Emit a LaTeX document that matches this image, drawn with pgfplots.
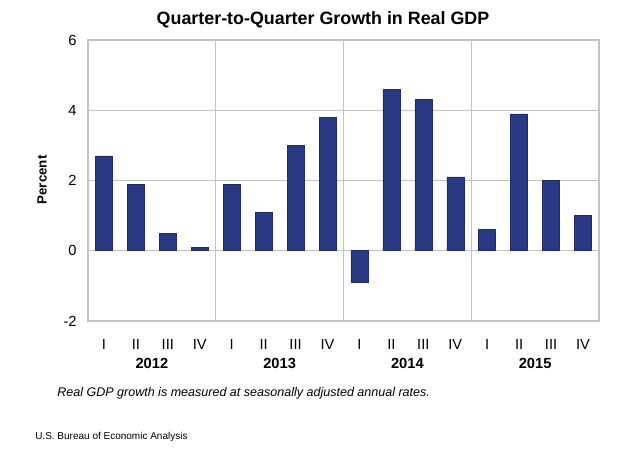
\documentclass[border=0pt]{standalone}
\usepackage{pgfplots}
\pgfplotsset{compat=1.18}
\usepackage{fontspec}
\setmainfont{Liberation Sans}
\definecolor{barblue}{RGB}{41,57,132}
\definecolor{bardark}{RGB}{30,44,110}
\definecolor{gridgray}{RGB}{195,195,195}
\begin{document}
\begin{tikzpicture}[x=0.75pt,y=0.75pt]
\path[use as bounding box] (0,0) rectangle (637,450);
\begin{axis}[
  at={(66pt,96.75pt)}, anchor=south west,
  scale only axis,
  width=383.25pt, height=210.75pt,
  ybar, bar width=12.75pt,
  xmin=-0.5, xmax=15.5,
  ymin=-2, ymax=6,
  ytick={-2,0,2,4,6},
  xtick={0,...,15},
  xticklabels={I,II,III,IV,I,II,III,IV,I,II,III,IV,I,II,III,IV},
  xticklabel style={anchor=center, yshift=-13.5pt, font=\fontsize{11}{13}\selectfont},
  yticklabel style={anchor=east, xshift=-5pt, font=\fontsize{11}{13}\selectfont},
  /pgf/number format/assume math mode=true,
  ymajorgrids, major grid style={gridgray, line width=0.8pt},
  axis line style={gridgray, line width=0.8pt},
  tick style={draw=none},
  clip=false,
]
\addplot[fill=barblue, draw=bardark, line width=0.4pt] coordinates {
 (0,2.7) (1,1.9) (2,0.5) (3,0.1)
 (4,1.9) (5,1.1) (6,3.0) (7,3.8)
 (8,-0.9) (9,4.6) (10,4.3) (11,2.1)
 (12,0.6) (13,3.9) (14,2.0) (15,1.0)};
\draw[gridgray, line width=0.8pt] (axis cs:3.5,-2) -- (axis cs:3.5,6);
\draw[gridgray, line width=0.8pt] (axis cs:7.5,-2) -- (axis cs:7.5,6);
\draw[gridgray, line width=0.8pt] (axis cs:11.5,-2) -- (axis cs:11.5,6);
\node[font=\fontsize{11}{13}\selectfont\bfseries, yshift=-31.5pt] at (axis cs:1.5,-2) {2012};
\node[font=\fontsize{11}{13}\selectfont\bfseries, yshift=-31.5pt] at (axis cs:5.5,-2) {2013};
\node[font=\fontsize{11}{13}\selectfont\bfseries, yshift=-31.5pt] at (axis cs:9.5,-2) {2014};
\node[font=\fontsize{11}{13}\selectfont\bfseries, yshift=-31.5pt] at (axis cs:13.5,-2) {2015};
\end{axis}
\node[font=\fontsize{13.4}{16}\selectfont\bfseries] at (323,430) {Quarter-to-Quarter Growth in Real GDP};
\node[font=\fontsize{10}{12}\selectfont\bfseries, rotate=90] at (42,270) {Percent};
\node[anchor=west, font=\fontsize{9.4}{12}\selectfont\itshape, inner sep=0pt] at (57,57) {Real GDP growth is measured at seasonally adjusted annual rates.};
\node[anchor=west, font=\fontsize{7.5}{9}\selectfont, inner sep=0pt] at (35,13) {U.S. Bureau of Economic Analysis};
\end{tikzpicture}
\end{document}
